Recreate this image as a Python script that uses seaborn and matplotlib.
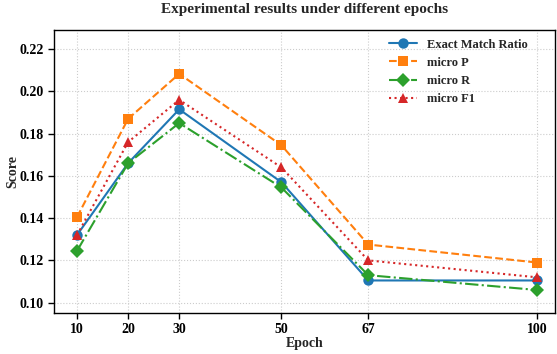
import pandas as pd
import matplotlib
matplotlib.use("Agg")
import matplotlib.pyplot as plt
import seaborn as sns

sns.set_theme(style="white")
plt.rcParams["font.family"] = ["Liberation Serif", "DejaVu Serif"]
plt.rcParams["font.weight"] = "bold"

epochs = [10, 20, 30, 50, 67, 100]
exact_match = [0.132, 0.166, 0.1915, 0.157, 0.1105, 0.1105]
micro_p = [0.1405, 0.187, 0.2083, 0.1745, 0.1275, 0.119]
micro_r = [0.1245, 0.166, 0.185, 0.1545, 0.113, 0.106]
micro_f1 = [0.132, 0.176, 0.196, 0.164, 0.120, 0.112]

series = [
    ("Exact Match Ratio", exact_match, "o", "-", "#1f77b4"),
    ("micro P", micro_p, "s", "--", "#ff7f0e"),
    ("micro R", micro_r, "D", "-.", "#2ca02c"),
    ("micro F1", micro_f1, "^", ":", "#d62728"),
]

fig, ax = plt.subplots(figsize=(5.57, 3.54), dpi=100)
for name, vals, mk, ls, col in series:
    df = pd.DataFrame({"Epoch": epochs, "Score": vals})
    sns.lineplot(data=df, x="Epoch", y="Score", ax=ax, marker=mk, linestyle=ls,
                 color=col, label=name, markersize=7.5, linewidth=1.5,
                 markeredgewidth=0)

ax.set_xlim(5.5, 103.5)
ax.set_ylim(0.0953, 0.229)
ax.set_xticks(epochs)
ax.set_yticks([0.10, 0.12, 0.14, 0.16, 0.18, 0.20, 0.22])
ax.set_yticklabels([f"{v:.2f}" for v in ax.get_yticks()])
ax.grid(True, linestyle=":", color="#cccccc", linewidth=0.8)
for s in ax.spines.values():
    s.set_color("black")
    s.set_linewidth(1.0)
ax.tick_params(axis="both", direction="out", length=4, width=1, colors="black",
               labelsize=10, left=True, bottom=True)
ax.set_xlabel("Epoch", fontsize=10, fontweight="bold", labelpad=1)
ax.set_ylabel("Score", fontsize=10, fontweight="bold", labelpad=0)
ax.set_title("Experimental results under different epochs", fontsize=11,
             fontweight="bold", pad=12)
ax.legend(loc="upper right", frameon=False, bbox_to_anchor=(0.968, 1.01),
          prop={"weight": "bold", "size": 9}, handlelength=2.2)

fig.subplots_adjust(left=0.097, right=0.996, top=0.915, bottom=0.117)
fig.savefig("out.png", dpi=100)
